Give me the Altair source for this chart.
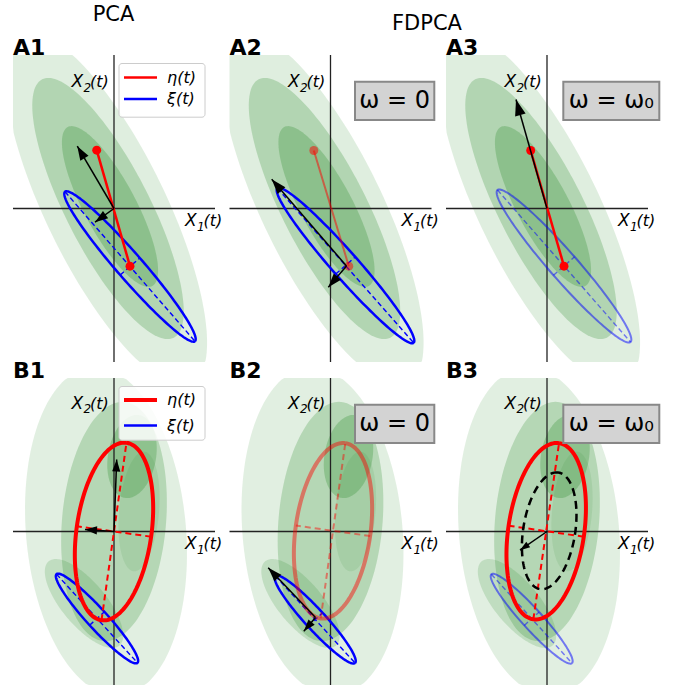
import altair as alt
import numpy as np
import pandas as pd

# ---------------- data (panel units: origin at the axes crossing, y up) ----------------
panels = ["A1", "A2", "A3", "B1", "B2", "B3"]
panel_col = [0, 1, 2, 0, 1, 2]
panel_row = [0, 0, 0, 1, 1, 1]
col_titles = ["PCA", "FDPCA"]

# green scatter cloud, described by density contours per row
cloud_row = ["A", "A", "A", "B", "B", "B", "B", "B"]
cloud_cx = [-8, -6, -4, -8, 0, 18, -30, 25]
cloud_cy = [0, 0, 2, 0, 10, 75, -72, 20]
cloud_a = [195, 145, 90, 165, 120, 42, 55, 60]
cloud_b = [60, 42, 26, 80, 52, 24, 22, 20]
cloud_ang = [-64, -63, -62, 95, 85, 80, -50, 85]
cloud_op = [0.15, 0.25, 0.28, 0.14, 0.24, 0.28, 0.18, 0.11]

# covariance ellipses
ell_panel = ["A1", "A2", "A3", "B1", "B1", "B2", "B2", "B3", "B3", "B3"]
ell_cx = [16, 15, 17, 0, -17, 2.5, -15.3, -0.8, 2.2, -15.3]
ell_cy = [-58, -57, -57.5, 0, -87, 0.7, -88, 0.3, 0.7, -87.2]
ell_a = [99, 103, 101, 89.6, 60, 88.5, 59, 89, 59, 60]
ell_b = [13, 13, 14, 37.5, 10, 37.5, 10, 38, 26, 10]
ell_ang = [-49, -48.6, -48.8, 82, -47.6, 82, -47.5, 81.7, 81, -47.8]
ell_kind = ["xi", "xi", "xi_faint", "eta", "xi", "eta_faint", "xi", "eta", "omega", "xi_faint"]

# eta(t) sample segments (row A)
eta_panel = ["A1", "A2", "A3"]
eta_x1 = [-17.3, -16.7, -16.3]
eta_y1 = [58.3, 58.0, 58.0]
eta_x2 = [16.0, 18.3, 17.0]
eta_y2 = [-57.7, -57.7, -57.7]
eta_kind = ["full", "faint", "full"]

# principal-direction arrows
arr_panel = ["A1", "A1", "A2", "A2", "A3", "B1", "B1", "B2", "B2", "B3"]
arr_x0 = [0, 0, 16, 16, 0, 0, 0, -15, -15, 0]
arr_y0 = [0, 0, -57.5, -57.5, 0, 0, 0, -86, -86, 0]
arr_x1 = [-36.7, -19, -58.8, -2.2, -31, 2.7, -29, -62.3, -26.7, -27]
arr_y1 = [62.3, -13.7, 29.2, -78.8, 109, 72, 2, -36.3, -99.7, -18.7]
arr_head = [14, 13, 15, 14, 16, 12, 12, 14, 12, 10]

legend_labels = ["η(t)", "ξ(t)"]
omega_panels = ["A2", "A3", "B2", "B3"]
omega_labels = ["ω = 0", "ω = ω₀", "ω = 0", "ω = ω₀"]
axis_sym, axis_sub, axis_arg = "X", ["1", "2"], "(t)"

# ---------------- layout (pixels) ----------------
SIZE = 690
COL_X = [114, 330.5, 547]
ROW_Y = [208.5, 531.5]
HW, HH = 101, 153.5
FONT = "DejaVu Sans"

pinfo = {p: (COL_X[c], ROW_Y[r], r) for p, c, r in zip(panels, panel_col, panel_row)}


def to_g(p, x, y):
    ox, oy, _ = pinfo[p]
    return ox + np.asarray(x, float), (SIZE - oy) + np.asarray(y, float)


def ellipse(cx, cy, a, b, ang, n=160):
    t = np.linspace(0, 2 * np.pi, n + 1)
    th = np.radians(ang)
    x = cx + a * np.cos(t) * np.cos(th) - b * np.sin(t) * np.sin(th)
    y = cy + a * np.cos(t) * np.sin(th) + b * np.sin(t) * np.cos(th)
    return x, y


SC = alt.Scale(domain=[0, SIZE], nice=False, zero=False)
X = alt.X("gx:Q", scale=SC, axis=None)
Y = alt.Y("gy:Q", scale=SC, axis=None)
X2 = alt.X2("gx2:Q")
Y2 = alt.Y2("gy2:Q")


def seg(p, xa, ya, xb, yb):
    a = to_g(p, xa, ya)
    b = to_g(p, xb, yb)
    return dict(gx=float(a[0]), gy=float(a[1]), gx2=float(b[0]), gy2=float(b[1]))


def pt(p, x, y, **kw):
    g = to_g(p, x, y)
    d = dict(gx=float(g[0]), gy=float(g[1]))
    d.update(kw)
    return d


layers = []

# ---- green cloud ----
rows = []
for i in range(len(cloud_row)):
    for p in panels:
        if "AB"[pinfo[p][2]] != cloud_row[i]:
            continue
        x, y = ellipse(cloud_cx[i], cloud_cy[i], cloud_a[i], cloud_b[i], cloud_ang[i])
        x = np.clip(x, -HW, HW)
        y = np.clip(y, -HH, HH)
        gx, gy = to_g(p, x, y)
        for k in range(len(gx)):
            rows.append(dict(id=f"{p}-{i}", k=k, gx=gx[k], gy=gy[k], op=cloud_op[i]))
layers.append(
    alt.Chart(pd.DataFrame(rows)).mark_line(fill="#2a8c2a", strokeWidth=0).encode(
        x=X, y=Y, detail="id:N", order="k:Q", opacity=alt.Opacity("op:Q", scale=None)
    )
)

# ---- spines through origin ----
rows = []
for p in panels:
    rows.append(seg(p, -HW, 0, HW, 0))
    rows.append(seg(p, 0, -HH, 0, HH))
layers.append(
    alt.Chart(pd.DataFrame(rows)).mark_rule(color="#222222", strokeWidth=1.3).encode(x=X, y=Y, x2=X2, y2=Y2)
)

# ---- ellipses and their semi-axes ----
styles = {
    "xi": dict(color="#0000ff", w=2.5, op=1.0, axw=1.4, axdash=[5, 3]),
    "xi_faint": dict(color="#0000ff", w=2.0, op=0.5, axw=1.4, axdash=[5, 3]),
    "eta": dict(color="#ff0000", w=4.0, op=1.0, axw=2.0, axdash=[6, 4]),
    "eta_faint": dict(color="#ff0000", w=4.0, op=0.45, axw=2.0, axdash=[6, 4]),
    "omega": dict(color="#000000", w=2.5, op=1.0, dash=[8, 5]),
}
for kind, st in styles.items():
    rows, axrows = [], []
    for i in range(len(ell_panel)):
        if ell_kind[i] != kind:
            continue
        p = ell_panel[i]
        x, y = ellipse(ell_cx[i], ell_cy[i], ell_a[i], ell_b[i], ell_ang[i])
        gx, gy = to_g(p, x, y)
        for k in range(len(gx)):
            rows.append(dict(id=f"{p}-{i}", k=k, gx=gx[k], gy=gy[k]))
        th = np.radians(ell_ang[i])
        for dx, dy in [(ell_a[i] * np.cos(th), ell_a[i] * np.sin(th)),
                       (-ell_b[i] * np.sin(th), ell_b[i] * np.cos(th))]:
            axrows.append(seg(p, ell_cx[i] - dx, ell_cy[i] - dy, ell_cx[i] + dx, ell_cy[i] + dy))
    if "axw" in st:
        layers.append(
            alt.Chart(pd.DataFrame(axrows)).mark_rule(
                color=st["color"], strokeWidth=st["axw"], strokeDash=st["axdash"], opacity=st["op"]
            ).encode(x=X, y=Y, x2=X2, y2=Y2)
        )
    mk = dict(color=st["color"], strokeWidth=st["w"], opacity=st["op"])
    if "dash" in st:
        mk["strokeDash"] = st["dash"]
    layers.append(
        alt.Chart(pd.DataFrame(rows)).mark_line(**mk).encode(x=X, y=Y, detail="id:N", order="k:Q")
    )

# ---- eta segments ----
for kind, op, w in [("full", 1.0, 2.5), ("faint", 0.5, 2.0)]:
    rows, dots = [], []
    for i in range(len(eta_panel)):
        if eta_kind[i] != kind:
            continue
        s = seg(eta_panel[i], eta_x1[i], eta_y1[i], eta_x2[i], eta_y2[i])
        rows.append(s)
        dots += [dict(gx=s["gx"], gy=s["gy"]), dict(gx=s["gx2"], gy=s["gy2"])]
    layers.append(
        alt.Chart(pd.DataFrame(rows)).mark_rule(color="#ff0000", strokeWidth=w, opacity=op).encode(
            x=X, y=Y, x2=X2, y2=Y2
        )
    )
    layers.append(
        alt.Chart(pd.DataFrame(dots)).mark_circle(color="#ff0000", size=80, opacity=op).encode(x=X, y=Y)
    )

# ---- arrows ----
rows = []
for i in range(len(arr_panel)):
    s = seg(arr_panel[i], arr_x0[i], arr_y0[i], arr_x1[i], arr_y1[i])
    dx, dy = arr_x1[i] - arr_x0[i], arr_y1[i] - arr_y0[i]
    s["ang"] = float(np.degrees(np.arctan2(dx, dy)) % 360)
    s["sz"] = arr_head[i] ** 2
    s["hx"], s["hy"] = s["gx2"], s["gy2"]
    rows.append(s)
arr_df = pd.DataFrame(rows)
layers.append(
    alt.Chart(arr_df).mark_rule(color="black", strokeWidth=1.5).encode(x=X, y=Y, x2=X2, y2=Y2)
)
layers.append(
    alt.Chart(arr_df).mark_point(
        shape="M0,0 L0.68,2 L-0.68,2 Z", filled=True, color="black", opacity=1, strokeWidth=0
    ).encode(
        x=alt.X("hx:Q", scale=SC, axis=None),
        y=alt.Y("hy:Q", scale=SC, axis=None),
        angle=alt.Angle("ang:Q", scale=None),
        size=alt.Size("sz:Q", scale=None),
    )
)

# ---- axis labels X_1(t), X_2(t), built from symbol, subscript and argument ----
rows = []
for p in panels:
    r = pinfo[p][2]
    # X1(t): left edge at x=71, baseline just below the horizontal axis
    x0, yb = 71, -17.5
    rows.append(pt(p, x0, yb, t=axis_sym, fs=17))
    rows.append(pt(p, x0 + 12, yb - 4.5, t=axis_sub[0], fs=12))
    rows.append(pt(p, x0 + 18.5, yb, t=axis_arg, fs=16))
    # X2(t): ends just left of the vertical axis
    x0, yb = -42.5, (121.5 if r == 0 else 123)
    rows.append(pt(p, x0, yb, t=axis_sym, fs=17))
    rows.append(pt(p, x0 + 12, yb - 4.5, t=axis_sub[1], fs=12))
    rows.append(pt(p, x0 + 18.5, yb, t=axis_arg, fs=16))
layers.append(
    alt.Chart(pd.DataFrame(rows)).mark_text(
        align="left", baseline="alphabetic", font=FONT, fontStyle="italic", color="black"
    ).encode(x=X, y=Y, text="t:N", size=alt.Size("fs:Q", scale=None))
)

# ---- legends (A1, B1) ----
for p, redw in [("A1", 2.5), ("B1", 4.0)]:
    r = pinfo[p][2]
    layers.append(
        alt.Chart(pd.DataFrame([seg(p, 5, 145, 91, 91.3)]))
        .mark_rect(fill="white", fillOpacity=0.85, stroke="#cccccc", strokeWidth=1, cornerRadius=3)
        .encode(x=X, y=Y, x2=X2, y2=Y2)
    )
    ys = [131, 109.5] if r == 0 else [131.5, 106]
    for j, (col, w) in enumerate([("#ff0000", redw), ("#0000ff", 2.5)]):
        layers.append(
            alt.Chart(pd.DataFrame([seg(p, 10, ys[j], 43, ys[j])]))
            .mark_rule(color=col, strokeWidth=w).encode(x=X, y=Y, x2=X2, y2=Y2)
        )
    trows = [pt(p, 53, ys[j], t=lab) for j, lab in enumerate(legend_labels)]
    layers.append(
        alt.Chart(pd.DataFrame(trows)).mark_text(
            align="left", baseline="middle", font=FONT, fontSize=16, fontStyle="italic", color="black"
        ).encode(x=X, y=Y, text="t:N")
    )

# ---- omega boxes ----
brows, trows = [], []
for p, lab in zip(omega_panels, omega_labels):
    col = panels.index(p) % 3
    x0, x1 = (24.5, 103.8) if col == 1 else (16.3, 112.3)
    brows.append(seg(p, x0, 126.8, x1, 88.5))
    trows.append(pt(p, (x0 + x1) / 2, 107.6, t=lab))
layers.append(
    alt.Chart(pd.DataFrame(brows)).mark_rect(fill="#d3d3d3", stroke="#888888", strokeWidth=2)
    .encode(x=X, y=Y, x2=X2, y2=Y2)
)
layers.append(
    alt.Chart(pd.DataFrame(trows)).mark_text(
        align="center", baseline="middle", font=FONT, fontSize=24, color="black"
    ).encode(x=X, y=Y, text="t:N")
)

# ---- panel letters and column titles ----
lrows = []
for p in panels:
    ox, oy, r = pinfo[p]
    lrows.append(dict(px=ox - HW, py=oy - HH, t=p))
layers.append(
    alt.Chart(pd.DataFrame(lrows)).mark_text(
        align="left", baseline="alphabetic", font=FONT, fontSize=22, fontWeight="bold", color="black"
    ).encode(
        x=alt.X("px:Q", scale=None, axis=None), y=alt.Y("py:Q", scale=None, axis=None), text="t:N"
    )
)
trows = [dict(px=113.5, py=15, t=col_titles[0]), dict(px=427, py=24, t=col_titles[1])]
layers.append(
    alt.Chart(pd.DataFrame(trows)).mark_text(
        align="center", baseline="middle", font=FONT, fontSize=21, color="black"
    ).encode(
        x=alt.X("px:Q", scale=None, axis=None), y=alt.Y("py:Q", scale=None, axis=None), text="t:N"
    )
)

chart = (
    alt.layer(*layers)
    .properties(width=SIZE, height=SIZE, autosize=alt.AutoSizeParams(type="none"), padding=0,
                background="white")
    .configure_view(stroke=None)
)
chart.save("out.html", embed_options={"renderer": "svg", "actions": False})
